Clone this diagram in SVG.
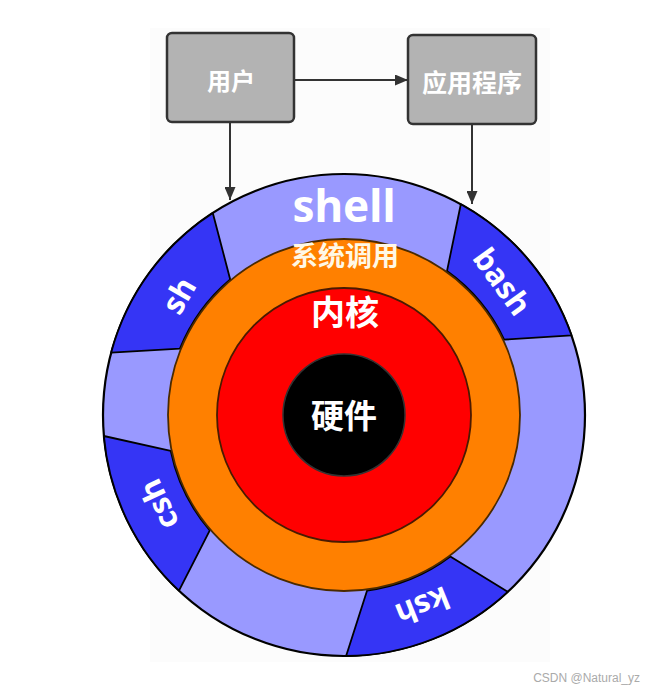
<svg xmlns="http://www.w3.org/2000/svg" width="645" height="689" viewBox="0 0 645 689">
  <style>
    .box { fill: #b3b3b3; stroke: #333333; stroke-width: 2.5; }
    .boxtxt { fill: #ffffff; font-family: "Noto Sans", "Noto Sans CJK SC", sans-serif; font-weight: bold; text-anchor: middle; dominant-baseline: central; }
    .conn { stroke: #333333; stroke-width: 2; fill: none; }
    .seg { fill: #3535f5; stroke: #000000; stroke-width: 1.8; stroke-linejoin: round; }
    .lbl { fill: #ffffff; font-family: "Noto Sans", "Noto Sans CJK SC", sans-serif; font-weight: bold; text-anchor: middle; }
    .rot { fill: #ffffff; font-family: "Noto Sans", sans-serif; font-weight: bold; font-size: 31px; text-anchor: middle; dominant-baseline: central; }
  </style>
  <defs>
    <marker id="arrow" markerUnits="userSpaceOnUse" markerWidth="13" markerHeight="11" refX="13" refY="5.5" orient="auto">
      <path d="M0,0 L13,5.5 L0,11 Z" fill="#333333"/>
    </marker>
  </defs>
  <rect x="0" y="0" width="645" height="689" fill="#ffffff"/>
  <rect x="150" y="28" width="400" height="634" fill="#fcfcfc"/>

  <g id="connectors">
    <path class="conn" d="M 294 80 L 408 80" marker-end="url(#arrow)"/>
    <path class="conn" d="M 230 122 L 230 200" marker-end="url(#arrow)"/>
    <path class="conn" d="M 472 124 L 472 204" marker-end="url(#arrow)"/>
  </g>

  <g id="node-user">
    <rect class="box" x="167" y="33" width="127" height="89" rx="5"/>
    <text class="boxtxt" x="231" y="80" font-size="24">用户</text>
  </g>
  <g id="node-app">
    <rect class="box" x="408" y="35" width="128" height="89" rx="5"/>
    <text class="boxtxt" x="472" y="82" font-size="25">应用程序</text>
  </g>

  <g id="node-shell">
    <circle cx="344" cy="415" r="241" fill="#9999ff" stroke="#000000" stroke-width="2.2"/>
    <text class="lbl" x="344" y="222" font-size="44">shell</text>
  </g>
  <g id="node-sh">
    <path class="seg" d="M 212.8 212.9 A 241 241 0 0 0 111.2 352.6 L 179.9 348.7 A 177 177 0 0 1 230.2 279.4 Z"/>
    <text class="rot" transform="translate(178 295) rotate(-60)">sh</text>
  </g>
  <g id="node-bash">
    <path class="seg" d="M 460.8 204.2 A 241 241 0 0 1 571.5 335.3 L 504.1 339.6 A 177 177 0 0 0 447 271.1 Z"/>
    <text class="rot" transform="translate(503 281) rotate(54)">bash</text>
  </g>
  <g id="node-csh">
    <path class="seg" d="M 103.9 436 A 241 241 0 0 0 179 590.7 L 209.8 530.4 A 177 177 0 0 1 170.7 450.9 Z"/>
    <text class="rot" transform="translate(158 505) rotate(-115)">csh</text>
  </g>
  <g id="node-ksh">
    <path class="seg" d="M 507.7 591.8 A 241 241 0 0 1 346.1 656 L 367.1 590.5 A 177 177 0 0 0 450.3 556.5 Z"/>
    <text class="rot" transform="translate(423 607) rotate(158)">ksh</text>
  </g>

  <g id="node-syscall">
    <circle cx="344" cy="415" r="176" fill="#ff8000" stroke="#4a2a00" stroke-width="1.8"/>
    <text class="lbl" x="345" y="266" font-size="27" style="fill:#fff8e6">系统调用</text>
  </g>
  <g id="node-kernel">
    <circle cx="344" cy="415" r="127" fill="#ff0000" stroke="#4a1a00" stroke-width="1.8"/>
    <text class="lbl" x="345" y="325" font-size="34">内核</text>
  </g>
  <g id="node-hardware">
    <circle cx="344" cy="415" r="61" fill="#000000" stroke="#333333" stroke-width="1.5"/>
    <text class="lbl" x="344" y="428" font-size="33">硬件</text>
  </g>

  <text x="640" y="682" font-family="Liberation Sans, sans-serif" font-size="12" fill="#aaaaaa" text-anchor="end">CSDN @Natural_yz</text>
</svg>
